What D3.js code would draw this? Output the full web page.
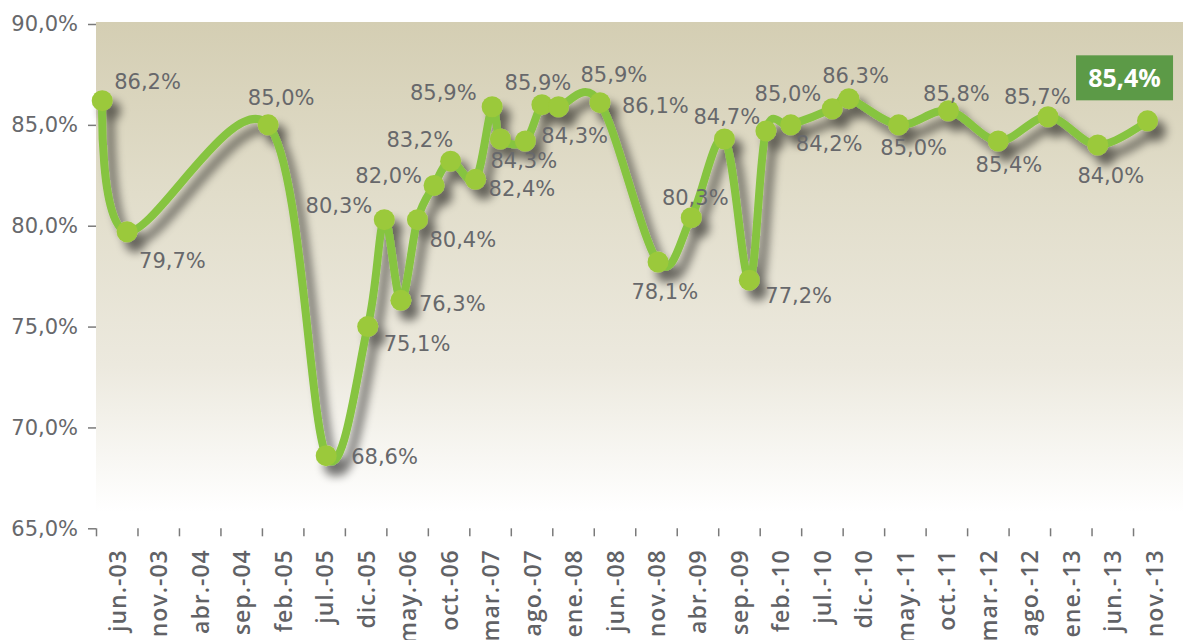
<!DOCTYPE html>
<html>
<head>
<meta charset="utf-8">
<script src="https://cdn.jsdelivr.net/npm/d3@7/dist/d3.min.js"></script>
<style>
  html, body { margin: 0; padding: 0; background: #ffffff; }
  svg { display: block; }
</style>
</head>
<body>
<svg id="chart" width="1183" height="640"></svg>
<script>
// ---------------- DATA ----------------
const dates = ["2003-06","2003-09","2005-02","2005-09","2006-02","2006-04","2006-06","2006-08",
  "2006-10","2006-12","2007-03","2007-05","2007-06","2007-09","2007-11","2008-01","2008-06",
  "2009-01","2009-05","2009-09","2009-12","2010-02","2010-05","2010-10","2010-12","2011-06",
  "2011-12","2012-06","2012-12","2013-06","2013-12"];
const values = [86.2,79.7,85.0,68.6,75.0,80.3,76.3,80.3,82.0,83.2,82.3,85.9,84.3,84.2,86.0,85.9,86.1,
  78.2,80.4,84.3,77.3,84.7,85.0,85.8,86.3,85.0,85.7,84.2,85.4,84.0,85.2];
const pointLabels = ["86,2%","79,7%","85,0%","68,6%","75,1%","80,3%","76,3%","80,4%","82,0%","83,2%",
  "82,4%","85,9%","84,3%","84,3%","85,9%","85,9%","86,1%","78,1%","80,3%","84,7%","77,2%","85,0%",
  "84,2%",null,"86,3%","85,0%","85,8%","85,4%","85,7%","84,0%",null];
const latestLabel = "85,4%";
const xTickLabels = ["jun.-03","nov.-03","abr.-04","sep.-04","feb.-05","jul.-05","dic.-05","may.-06",
  "oct.-06","mar.-07","ago.-07","ene.-08","jun.-08","nov.-08","abr.-09","sep.-09","feb.-10","jul.-10",
  "dic.-10","may.-11","oct.-11","mar.-12","ago.-12","ene.-13","jun.-13","nov.-13"];
const yTicks = [65,70,75,80,85,90];

// ---------------- LAYOUT (label placement relative to its point) ----------------
const labelLayout = [
  ["start",12,-12],["start",12,36],["middle",13,-20],["start",25,8],["start",16,24],
  ["end",-12,-7],["start",18,11],["start",12,27],["end",-12,-2],["end",2.5,-14],
  ["start",13,17],["end",-15.5,-7],["start",-10,29],["start",16,2],["middle",-4,-14.5],
  ["start",22,-25],["start",22,10],["middle",6.7,37],["middle",4,-13],["middle",2.4,-15],
  ["start",16,23],["middle",22,-30],["start",5,26],null,["middle",6.7,-16],
  ["middle",15,30],["middle",8,-10],["middle",10.7,31],["middle",-10.7,-13],["middle",13,38],null
];

(function () {
const svg = d3.select("#chart");
const W = 1183, H = 640;
const pLeft = 96, pRight = 1174.5, pTop = 24, pBottom = 528.3;
const FONT = "'DejaVu Sans', sans-serif";
const TXT = "#67686b";

const parse = d3.timeParse("%Y-%m");
const start = parse(dates[0]);
const monthIndex = d => (d.getFullYear() - start.getFullYear()) * 12 + d.getMonth() - start.getMonth();

const x = d3.scaleLinear().domain([0, 130]).range([pLeft, pRight]);
const y = d3.scaleLinear().domain([65, 90]).range([pBottom, pTop]);

const data = dates.map((d, i) => ({ m: monthIndex(parse(d)) + 0.75, v: values[i], label: pointLabels[i], lay: labelLayout[i] }));

// ---------------- defs ----------------
const defs = svg.append("defs");
const grad = defs.append("linearGradient").attr("id", "bg").attr("x1", 0).attr("y1", 0).attr("x2", 0).attr("y2", 1);
grad.append("stop").attr("offset", "0%").attr("stop-color", "#d4ceb3");
grad.append("stop").attr("offset", "35%").attr("stop-color", "#e1ddca");
grad.append("stop").attr("offset", "70%").attr("stop-color", "#ece9de");
grad.append("stop").attr("offset", "100%").attr("stop-color", "#ffffff");

const f = defs.append("filter").attr("id", "shadow")
  .attr("filterUnits", "userSpaceOnUse").attr("x", 0).attr("y", 0).attr("width", W).attr("height", H);
f.append("feGaussianBlur").attr("in", "SourceAlpha").attr("stdDeviation", 5).attr("result", "b");
f.append("feOffset").attr("in", "b").attr("dx", 8).attr("dy", 10).attr("result", "o");
const ct = f.append("feComponentTransfer").attr("in", "o").attr("result", "s");
ct.append("feFuncA").attr("type", "linear").attr("slope", 0.55);
const fm = f.append("feMerge");
fm.append("feMergeNode").attr("in", "s");
fm.append("feMergeNode").attr("in", "SourceGraphic");

// background
svg.append("rect").attr("x", pLeft).attr("y", 22).attr("width", W - pLeft).attr("height", 490)
  .attr("fill", "url(#bg)");

// ---------------- axes ----------------
const yAxis = d3.axisLeft(y).tickValues(yTicks).tickSize(8).tickPadding(10)
  .tickFormat(d => d3.format(".1f")(d).replace(".", ",") + "%");
const gy = svg.append("g").attr("transform", `translate(${pLeft},0)`).call(yAxis);
gy.select(".domain").remove();
gy.selectAll(".tick line").attr("stroke", "#7a7a7a").attr("stroke-width", 1.5);
gy.selectAll(".tick text").attr("fill", TXT).style("font-family", FONT).style("font-size", "21px");

const xAxis = d3.axisBottom(x).tickValues(d3.range(0, 130, 5)).tickSize(8).tickFormat("");
const gx = svg.append("g").attr("transform", `translate(0,${pBottom})`).call(xAxis);
gx.select(".domain").remove();
gx.selectAll(".tick line").attr("stroke", "#7a7a7a").attr("stroke-width", 1.5);

svg.append("g").selectAll("text").data(xTickLabels).join("text")
  .attr("transform", (d, i) => `translate(${x(i * 5 + 2.5) + 9},${pBottom + 21}) rotate(-90)`)
  .attr("text-anchor", "end")
  .attr("fill", "#616266")
  .style("font-family", "'Open Sans', sans-serif").style("font-weight", 600)
  .style("font-size", "23px").style("letter-spacing", "1px")
  .text(d => d);

// ---------------- series ----------------
const gs = svg.append("g").attr("filter", "url(#shadow)");
const line = d3.line().x(d => x(d.m)).y(d => y(d.v)).curve(d3.curveCardinal.tension(0));
gs.append("path").datum(data).attr("d", line)
  .attr("fill", "none").attr("stroke", "#86c440").attr("stroke-width", 8)
  .attr("stroke-linejoin", "round").attr("stroke-linecap", "round");
gs.selectAll("circle").data(data).join("circle")
  .attr("cx", d => x(d.m)).attr("cy", d => y(d.v)).attr("r", 10.5)
  .attr("fill", "#9bc93a");

// labels
svg.append("g").selectAll("text").data(data.filter(d => d.label && d.lay)).join("text")
  .attr("x", d => x(d.m) + d.lay[1]).attr("y", d => y(d.v) + d.lay[2])
  .attr("text-anchor", d => d.lay[0])
  .attr("fill", TXT)
  .style("font-family", FONT).style("font-size", "21px")
  .text(d => d.label);

// latest value box
const last = data[data.length - 1];
const bx = x(last.m) - 23, by = y(last.v) - 43;
svg.append("rect").attr("x", bx - 48.5).attr("y", by - 22.5).attr("width", 97).attr("height", 45)
  .attr("fill", "#5c9a47");
svg.append("text").attr("x", bx).attr("y", by + 9).attr("text-anchor", "middle")
  .attr("fill", "#ffffff").style("font-family", "'Open Sans', sans-serif")
  .style("font-weight", "bold").style("font-size", "25px").text(latestLabel);
})();
</script>
</body>
</html>
